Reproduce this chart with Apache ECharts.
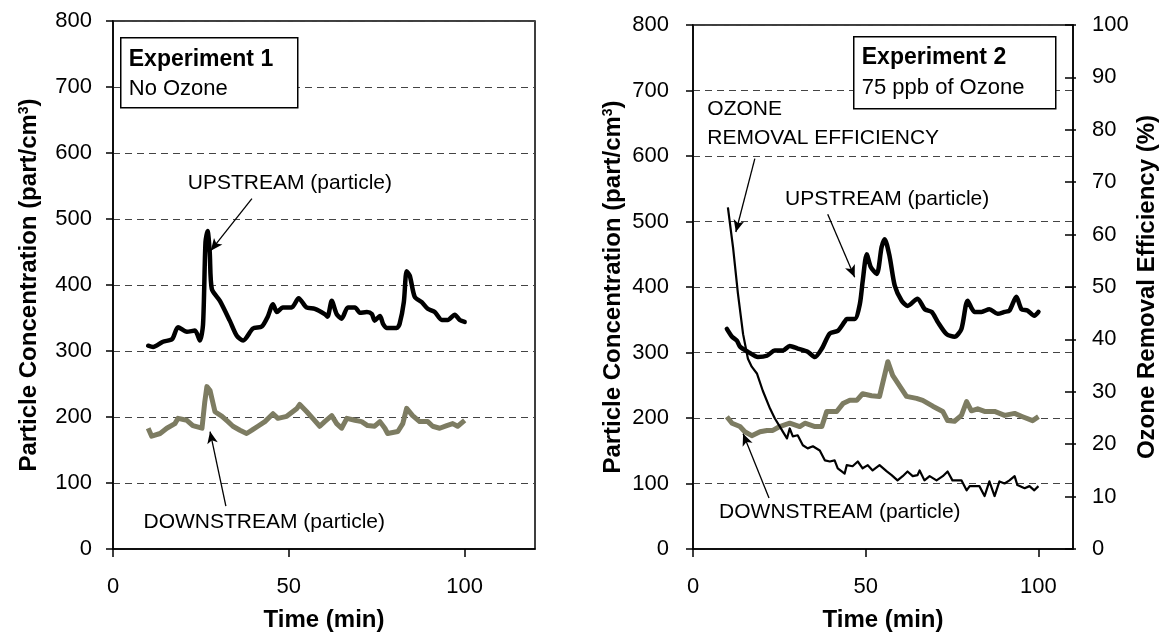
<!DOCTYPE html>
<html>
<head>
<meta charset="utf-8">
<script src="https://cdn.jsdelivr.net/npm/echarts@6/dist/echarts.min.js"></script>
<style>
  html, body { margin: 0; padding: 0; background: #fff; }
  #main { width: 1174px; height: 637px; }
</style>
</head>
<body>
<div id="main"></div>
<script>
// --- data (time in min) ---
var timeTicks = [0, 50, 100];
var concTicksMax = 800;
var effTicksMax = 100;

// Experiment 1 : upstream particles
var exp1UpTime = [10, 11.4, 14.2, 16.8, 18.5, 21, 23.3, 24.7, 25.6, 26.3, 26.9, 27.5, 28.1, 30.4, 33.2, 35.2, 37, 39.8, 42.3, 44, 45.5, 46.6, 48.3, 50.8, 52.8, 55, 57.4, 60.2, 61, 62.2, 63.6, 65, 66.8, 68.8, 70.2, 72.2, 73.6, 74.4, 75.9, 76.8, 77.8, 80.7, 81.5, 82.7, 83.5, 84.4, 85.8, 87.8, 89.5, 91.5, 93.5, 95.2, 97.2, 98.6, 100];
var exp1UpConc = [308, 306, 314, 318, 336, 329, 331, 316, 340, 465, 482, 450, 394, 376, 346, 323, 316, 334, 337, 352, 371, 359, 366, 366, 380, 366, 364, 356, 352, 376, 356, 349, 366, 366, 358, 359, 356, 346, 353, 341, 335, 335, 341, 374, 421, 414, 382, 374, 364, 359, 347, 347, 355, 347, 344];

// Experiment 1 : downstream particles
var exp1DownTime = [10, 11, 13.4, 15.3, 17.6, 18.5, 21, 22.7, 25.3, 26.1, 26.7, 27.6, 29, 31, 32.7, 34.1, 36.1, 38, 39.5, 41.2, 43.2, 45.5, 46.9, 49.4, 52.3, 53.1, 55.1, 56.8, 58.8, 60.2, 62.2, 63.6, 65, 66.5, 68.8, 70.7, 72.4, 74.4, 75.9, 77.3, 78.1, 81, 82.4, 83.5, 85.2, 87.2, 89.5, 90.9, 92.9, 94.9, 96.6, 98, 100];
var exp1DownConc = [183, 171, 175, 183, 190, 198, 195, 187, 183, 223, 246, 240, 208, 201, 193, 186, 180, 175, 180, 186, 193, 205, 198, 201, 213, 219, 208, 198, 186, 193, 202, 190, 183, 198, 195, 193, 187, 186, 193, 183, 175, 178, 190, 213, 202, 193, 193, 186, 183, 187, 190, 186, 195];

// Experiment 2 : upstream particles
var exp2UpTime = [9.8, 11.3, 12.7, 13.6, 15.9, 18.8, 21.4, 23.7, 26, 28, 30.3, 33.2, 35.3, 37.3, 39.6, 41.9, 43.9, 44.5, 46.8, 48.3, 49.1, 50.3, 51.5, 53.2, 54.6, 55.5, 56.9, 58.4, 60.4, 62.1, 65, 67.1, 69.1, 70.8, 73.4, 75.7, 77.7, 79.5, 81.5, 83.5, 85.8, 88.2, 90.2, 91.6, 93.6, 95.1, 96.8, 98.8, 100];
var exp2UpConc = [336, 324, 318, 309, 301, 293, 295, 303, 303, 310, 306, 301, 293, 306, 329, 333, 347, 351, 351, 374, 408, 450, 430, 420, 461, 473, 447, 402, 379, 371, 382, 366, 362, 347, 328, 324, 336, 379, 362, 362, 366, 359, 362, 364, 385, 366, 364, 356, 362];

// Experiment 2 : downstream particles
var exp2DownTime = [9.8, 11.3, 13.6, 15, 17, 19.4, 21.4, 23.1, 25.1, 28, 30.9, 32.4, 35.3, 37.3, 38.7, 41.6, 43.4, 45.4, 47.4, 49.1, 51.7, 54, 56.4, 57.8, 59.8, 61.8, 64.7, 66.5, 69.4, 72.3, 73.7, 75.7, 77.7, 79.2, 80.6, 82.4, 84.4, 87.3, 90.2, 93.1, 95.4, 98.3, 100];
var exp2DownConc = [202, 192, 187, 179, 173, 179, 181, 181, 187, 192, 187, 192, 187, 187, 210, 210, 222, 227, 227, 237, 234, 233, 286, 265, 249, 233, 230, 227, 218, 210, 196, 195, 204, 225, 211, 214, 210, 210, 204, 207, 202, 196, 202];

// Experiment 2 : ozone removal efficiency (%)
var ozoneTime = [10.1, 11.6, 13, 14.5, 15.9, 17, 18.5, 20.2, 22.3, 23.7, 25.1, 26, 27.2, 28, 28.9, 30.3, 31.8, 33.2, 34.7, 36.7, 38.2, 39.6, 41, 41.9, 43.9, 44.5, 46.2, 47.7, 49.1, 50.6, 52, 54, 56.1, 57.5, 59.2, 60.7, 62.1, 63.6, 65, 65.6, 67, 68.5, 70.5, 72.3, 73.7, 75.1, 77.7, 79.2, 80.1, 82.9, 84.4, 85.8, 87.3, 88.7, 90.2, 91.6, 93.1, 93.9, 96, 97.4, 98.8, 100];
var ozoneEff = [65.2, 57.5, 48.8, 41, 36.3, 34.8, 33.5, 30.2, 26.8, 24.9, 23.4, 22.4, 21.1, 23, 21.5, 21.7, 19.8, 19.2, 19.6, 18.8, 16.9, 16.7, 16.9, 15.4, 14.4, 16, 15.8, 16.7, 15.4, 16, 15, 16, 14.8, 14.1, 13.1, 13.9, 14.8, 13.9, 14.1, 15, 13.1, 13.9, 13.1, 13.9, 14.8, 13.1, 13.1, 11.2, 12, 12, 10.1, 12.9, 10.1, 12.9, 12.5, 13.1, 13.9, 12.2, 11.6, 12, 11.2, 12];

function pairs(t, v) {
  var out = [];
  for (var i = 0; i < Math.min(t.length, v.length); i++) out.push([t[i], v[i]]);
  return out;
}

var FONT = '"Liberation Sans", Arial, sans-serif';
var OLIVE = '#7d7c62';

var gridLine = { show: true, lineStyle: { color: '#444', type: [7, 5], width: 1 } };
var tickLabel = { color: '#000', fontSize: 22, fontFamily: FONT };
var axisNameStyle = {
  color: '#000', fontSize: 24, fontWeight: 'bold', fontFamily: FONT,
  rich: { sup: { fontSize: 14, fontWeight: 'bold', fontFamily: FONT, verticalAlign: 'top', color: '#000' } }
};

function xAxisFor(gridIndex, max) {
  return {
    type: 'value', gridIndex: gridIndex, min: 0, max: max, interval: 50,
    name: 'Time (min)', nameLocation: 'middle', nameGap: 59, nameTextStyle: axisNameStyle,
    axisLine: { lineStyle: { color: '#000', width: 1.5 } },
    axisTick: { show: true, length: 8, customValues: timeTicks, lineStyle: { color: '#000', width: 1.5 } },
    axisLabel: Object.assign({ margin: 27, customValues: timeTicks }, tickLabel),
    splitLine: { show: false }
  };
}

function concAxis(gridIndex, gap, margin) {
  return {
    type: 'value', gridIndex: gridIndex, min: 0, max: concTicksMax, interval: 100,
    name: 'Particle Concentration (part/cm{sup|3})', nameLocation: 'middle', nameRotate: 90,
    nameGap: gap, nameTextStyle: axisNameStyle,
    axisLine: { show: true, lineStyle: { color: '#000', width: 1.5 } },
    axisTick: { show: true, length: 7, lineStyle: { color: '#000', width: 1.5 } },
    axisLabel: Object.assign({ margin: margin }, tickLabel),
    splitLine: gridLine
  };
}

function arrow(from, to) {
  return [{ coord: from }, { coord: to }];
}
function note(text, at, pos) {
  return {
    coord: at, symbol: 'rect', symbolSize: 1, itemStyle: { color: 'rgba(0,0,0,0)' },
    label: { show: true, formatter: text, position: pos || 'inside', distance: 0,
             color: '#000', fontSize: 21, fontFamily: FONT }
  };
}
var arrowStyle = {
  silent: true, symbol: ['none', 'arrow'], symbolSize: [8, 12], precision: 3,
  lineStyle: { color: '#000', width: 1.3, type: 'solid' },
  label: { show: false }, emphasis: { disabled: true }, animation: false
};

var chart = echarts.init(document.getElementById('main'), null, { renderer: 'canvas' });

var option = {
  animation: false,
  backgroundColor: '#fff',
  textStyle: { fontFamily: FONT },
  grid: [
    { left: 113, top: 21, width: 422, bottom: 86, show: true, borderColor: '#000', borderWidth: 1.5, backgroundColor: 'transparent' },
    { left: 693, top: 25, width: 380, bottom: 86, show: true, borderColor: '#000', borderWidth: 1.5, backgroundColor: 'transparent' }
  ],
  xAxis: [xAxisFor(0, 120), xAxisFor(1, 110)],
  yAxis: [
    concAxis(0, 72, 21),
    concAxis(1, 68, 24),
    {
      type: 'value', gridIndex: 1, position: 'right', min: 0, max: effTicksMax, interval: 10,
      name: 'Ozone Removal Efficiency (%)', nameLocation: 'middle', nameRotate: 90,
      nameGap: 62, nameTextStyle: axisNameStyle,
      axisLine: { show: true, lineStyle: { color: '#000', width: 1.5 } },
      axisTick: { show: true, length: 3, lineStyle: { color: '#000', width: 1.5 } },
      axisLabel: Object.assign({ margin: 19 }, tickLabel),
      splitLine: { show: false }
    },
    {
      // inner half of the crossing ticks on the efficiency axis
      type: 'value', gridIndex: 1, position: 'right', min: 0, max: effTicksMax, interval: 10,
      axisLine: { show: false },
      axisTick: { show: true, inside: true, length: 8, lineStyle: { color: '#000', width: 1.5 } },
      axisLabel: { show: false },
      splitLine: { show: false }
    }
  ],
  graphic: [
    {
      type: 'group', left: 120, top: 37, z: 100,
      children: [
        { type: 'rect', z: 100, shape: { x: 0, y: 0, width: 177, height: 70 }, style: { fill: '#fff', stroke: '#000', lineWidth: 1.5 } },
        { type: 'text', z: 101, x: 8, y: 10, style: { text: 'Experiment 1', font: 'bold 23px ' + FONT, fill: '#000' } },
        { type: 'text', z: 101, x: 8, y: 40, style: { text: 'No Ozone', font: '22px ' + FONT, fill: '#000' } }
      ]
    },
    {
      type: 'group', left: 853, top: 36, z: 100,
      children: [
        { type: 'rect', z: 100, shape: { x: 0, y: 0, width: 202, height: 72 }, style: { fill: '#fff', stroke: '#000', lineWidth: 1.5 } },
        { type: 'text', z: 101, x: 8, y: 9, style: { text: 'Experiment 2', font: 'bold 23px ' + FONT, fill: '#000' } },
        { type: 'text', z: 101, x: 8, y: 40, style: { text: '75 ppb of Ozone', font: '22px ' + FONT, fill: '#000' } }
      ]
    }
  ],
  series: [
    {
      name: 'Exp1 upstream', type: 'line', xAxisIndex: 0, yAxisIndex: 0,
      data: pairs(exp1UpTime, exp1UpConc), showSymbol: false, smooth: 0.25,
      lineStyle: { color: '#000', width: 4.5, cap: 'round', join: 'round' }, z: 3,
      markLine: Object.assign({ data: [arrow([39.5, 531], [27.8, 452])] }, arrowStyle),
      markPoint: { silent: true, animation: false, data: [note('UPSTREAM (particle)', [50.3, 554])] }
    },
    {
      name: 'Exp1 downstream', type: 'line', xAxisIndex: 0, yAxisIndex: 0,
      data: pairs(exp1DownTime, exp1DownConc), showSymbol: false, smooth: false,
      lineStyle: { color: OLIVE, width: 5, join: 'round' }, z: 2,
      markLine: Object.assign({ data: [arrow([32.1, 65], [27.6, 178])] }, arrowStyle),
      markPoint: { silent: true, animation: false, data: [note('DOWNSTREAM (particle)', [43, 41])] }
    },
    {
      name: 'Exp2 upstream', type: 'line', xAxisIndex: 1, yAxisIndex: 1,
      data: pairs(exp2UpTime, exp2UpConc), showSymbol: false, smooth: 0.25,
      lineStyle: { color: '#000', width: 4.5, cap: 'round', join: 'round' }, z: 3,
      markLine: Object.assign({ data: [
        arrow([39, 511], [46.8, 415]),
        arrow([17.9, 596], [12.4, 484])
      ] }, arrowStyle),
      markPoint: { silent: true, animation: false, data: [
        note('UPSTREAM (particle)', [56.2, 534]),
        note('OZONE', [4, 671], 'right'),
        note('REMOVAL EFFICIENCY', [4, 627], 'right')
      ] }
    },
    {
      name: 'Exp2 downstream', type: 'line', xAxisIndex: 1, yAxisIndex: 1,
      data: pairs(exp2DownTime, exp2DownConc), showSymbol: false, smooth: false,
      lineStyle: { color: OLIVE, width: 5, join: 'round' }, z: 2,
      markLine: Object.assign({ data: [arrow([22, 78], [14.5, 176])] }, arrowStyle),
      markPoint: { silent: true, animation: false, data: [note('DOWNSTREAM (particle)', [42.5, 56])] }
    },
    {
      name: 'Ozone removal efficiency', type: 'line', xAxisIndex: 1, yAxisIndex: 2,
      data: pairs(ozoneTime, ozoneEff), showSymbol: false, smooth: false,
      lineStyle: { color: '#000', width: 2.2, join: 'round' }, z: 4
    }
  ]
};

chart.setOption(option);
</script>
</body>
</html>
